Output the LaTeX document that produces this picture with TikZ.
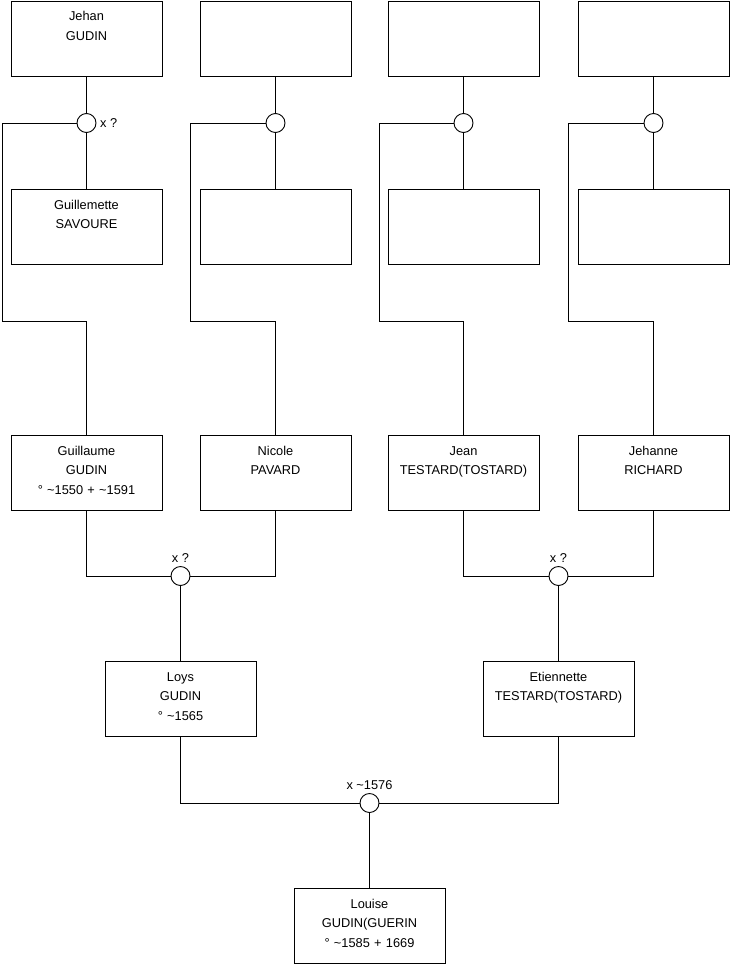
\documentclass[tikz,border=0pt]{standalone}
\usepackage{fontspec}
\setmainfont{Liberation Sans}
\begin{document}
\begin{tikzpicture}[x=1pt,y=-1pt,
  person/.style={draw=black,line width=0.9pt,rectangle,minimum width=151pt,minimum height=75pt,inner sep=0pt,fill=white},
  txt/.style={text width=151pt,align=center,inner sep=0pt,anchor=base,font=\fontsize{12.8}{19.6}\selectfont},
  lbl/.style={inner sep=0pt,font=\fontsize{12.8}{19.6}\selectfont},
  union/.style={draw=black,line width=0.9pt,circle,minimum size=19pt,inner sep=0pt,fill=white},
  link/.style={draw=black,line width=0.9pt}]
\fill[white] (0,0) rectangle (740,975);
\useasboundingbox (0,0) rectangle (740,975);

% top row
\node[person] (jehan) at (86.5,38.5) {};
\node[person] (f2) at (275.5,38.5) {};
\node[person] (f3) at (463.5,38.5) {};
\node[person] (f4) at (653.5,38.5) {};
% second row
\node[person] (guillemette) at (86.5,227) {};
\node[person] (m2) at (275.5,227) {};
\node[person] (m3) at (463.5,227) {};
\node[person] (m4) at (653.5,227) {};
% third row
\node[person] (guillaume) at (86.5,473) {};
\node[person] (nicole) at (275.5,473) {};
\node[person] (jean) at (463.5,473) {};
\node[person] (jehanne) at (653.5,473) {};
% fourth row
\node[person] (loys) at (180.5,699) {};
\node[person] (etiennette) at (558.5,699) {};
% bottom
\node[person] (louise) at (369.5,926) {};

% unions
\node[union] (u1) at (86.5,123) {};
\node[union] (u2) at (275.5,123) {};
\node[union] (u3) at (463.5,123) {};
\node[union] (u4) at (653.5,123) {};
\node[union] (u5) at (180.5,576) {};
\node[union] (u6) at (558.5,576) {};
\node[union] (u7) at (369.5,803) {};

% bends
\coordinate (k1) at (2,321);
\coordinate (k2) at (190,321);
\coordinate (k3) at (379,321);
\coordinate (k4) at (568,321);

% connectors top
\draw[link] (jehan.south) -- (u1.north);
\draw[link] (u1.south) -- (guillemette.north);
\draw[link] (u1.west) -| (k1) -| (guillaume.north);
\draw[link] (f2.south) -- (u2.north);
\draw[link] (u2.south) -- (m2.north);
\draw[link] (u2.west) -| (k2) -| (nicole.north);
\draw[link] (f3.south) -- (u3.north);
\draw[link] (u3.south) -- (m3.north);
\draw[link] (u3.west) -| (k3) -| (jean.north);
\draw[link] (f4.south) -- (u4.north);
\draw[link] (u4.south) -- (m4.north);
\draw[link] (u4.west) -| (k4) -| (jehanne.north);
% middle
\draw[link] (guillaume.south) |- (u5.west);
\draw[link] (nicole.south) |- (u5.east);
\draw[link] (u5.south) -- (loys.north);
\draw[link] (jean.south) |- (u6.west);
\draw[link] (jehanne.south) |- (u6.east);
\draw[link] (u6.south) -- (etiennette.north);
% bottom
\draw[link] (loys.south) |- (u7.west);
\draw[link] (etiennette.south) |- (u7.east);
\draw[link] (u7.south) -- (louise.north);

% texts
\node[txt] (tjehan) at (86.5,20.6) {Jehan\\GUDIN};
\node[txt] (tguillemette) at (86.5,209) {Guillemette\\SAVOURE};
\node[txt] (tguillaume) at (86.5,455) {Guillaume\\GUDIN\\° \textasciitilde1550 + \textasciitilde1591};
\node[txt] (tnicole) at (275.5,455) {Nicole\\PAVARD};
\node[txt] (tjean) at (463.5,455) {Jean\\TESTARD(TOSTARD)};
\node[txt] (tjehanne) at (653.5,455) {Jehanne\\RICHARD};
\node[txt] (tloys) at (180.5,681) {Loys\\GUDIN\\° \textasciitilde1565};
\node[txt] (tetiennette) at (558.5,681) {Etiennette\\TESTARD(TOSTARD)};
\node[txt] (tlouise) at (369.5,908) {Louise\\GUDIN(GUERIN\\° \textasciitilde1585 + 1669};

% union labels
\node[lbl,anchor=west] (l1) at (100,123) {x ?};
\node[lbl,anchor=base] (l5) at (180.5,562.5) {x ?};
\node[lbl,anchor=base] (l6) at (558.5,562.5) {x ?};
\node[lbl,anchor=base] (l7) at (369.5,789.5) {x \textasciitilde1576};
\end{tikzpicture}
\end{document}
